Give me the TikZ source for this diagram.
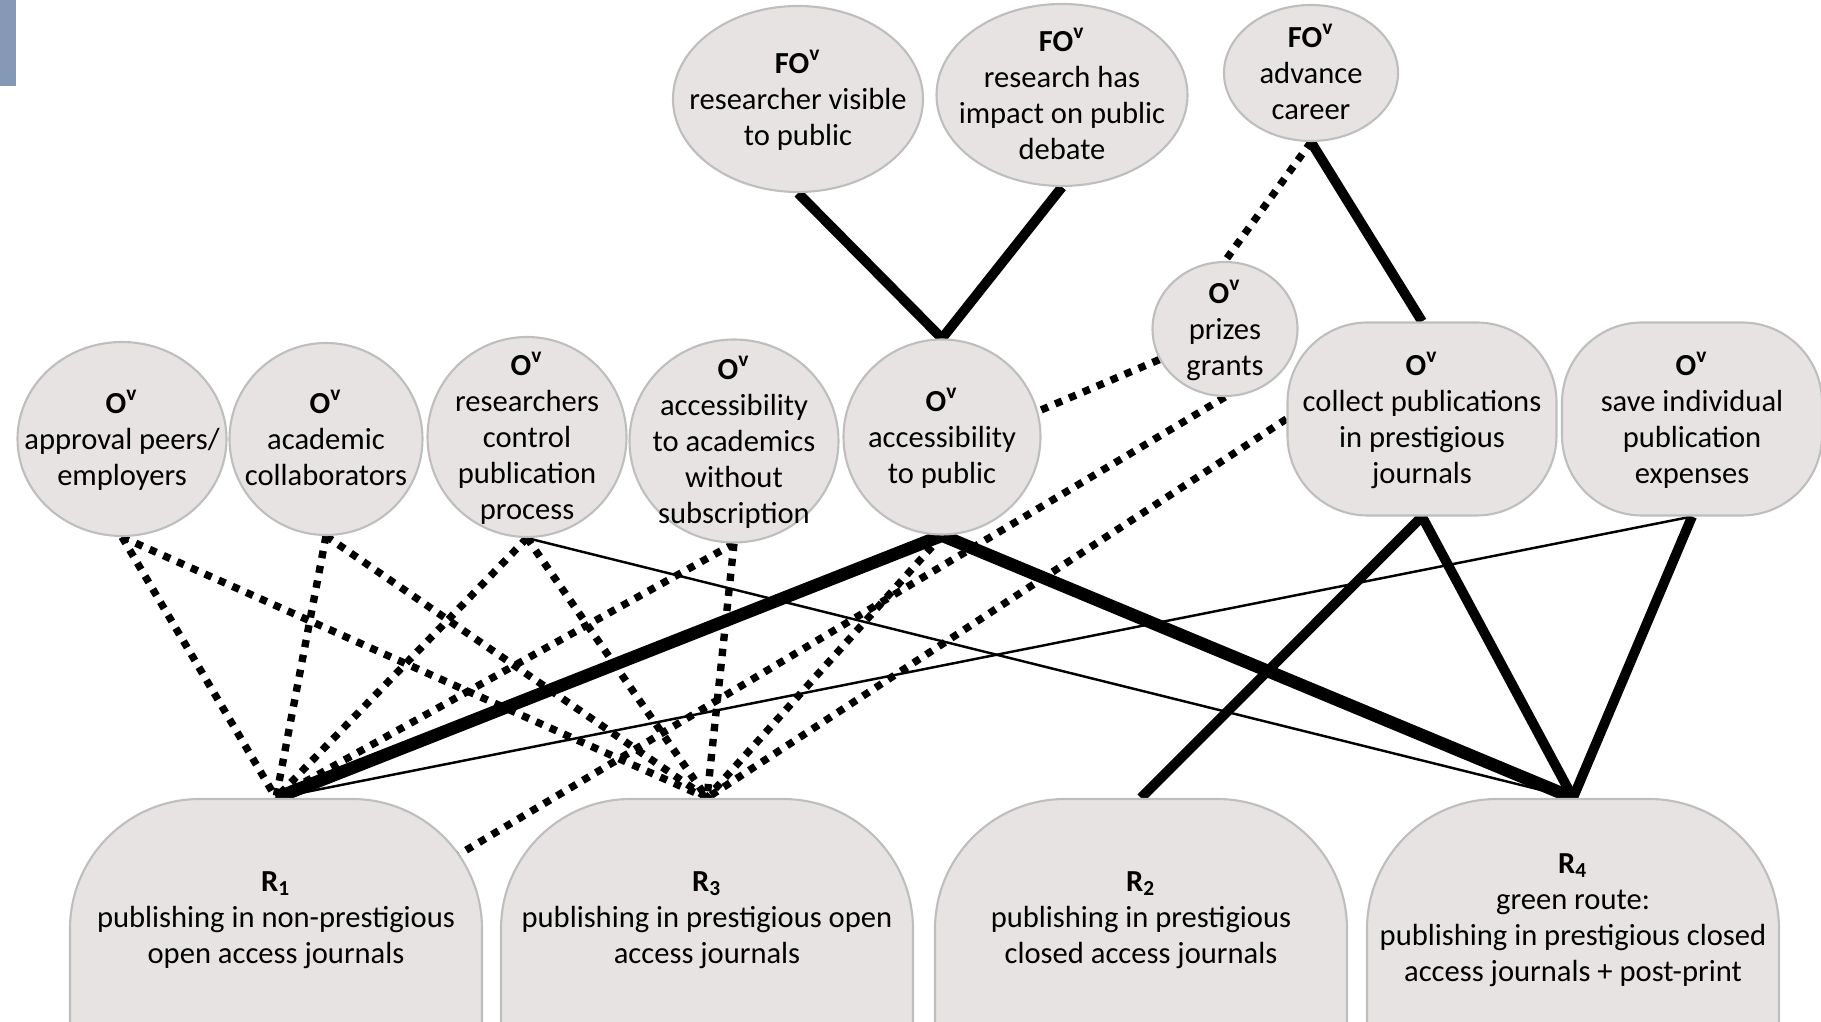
\documentclass[tikz,border=0pt]{standalone}
\usepackage{fontspec}
\setmainfont{Carlito}
\usetikzlibrary{shapes.geometric,backgrounds}
\definecolor{bubble}{RGB}{231,227,227}
\definecolor{rim}{RGB}{190,190,190}
\definecolor{slideblue}{RGB}{132,153,181}
% centred text that does not change the size of its shape
\newcommand{\ntext}[2][0pt]{\raisebox{\dimexpr #1-3.2pt\relax}[0pt][0pt]{\makebox[0pt]{\begin{tabular}{@{}c@{}}#2\end{tabular}}}}
\newcommand{\fov}{\textbf{FO\textsuperscript{v}}}
\newcommand{\ov}{\textbf{O\textsuperscript{v}}}

\begin{document}
\begin{tikzpicture}[dims/.style 2 args = {minimum width=#1cm, minimum height=#2cm},
	goal/.style = {ellipse, fill=bubble, draw=rim, line width=0.6pt, inner sep=0pt, font=\fontsize{8.7}{10.2}\selectfont},
	box/.style = {rectangle, rounded corners=0.8cm, fill=bubble, draw=rim, line width=0.6pt, inner sep=0pt, font=\fontsize{8.7}{10.2}\selectfont},
	route/.style = {box, rounded corners=1.3cm, dims={4.12}{4.6}},
	heavylink/.style = {line width=3.6pt},
	solidlink/.style = {line width=2.8pt},
	thinlink/.style = {line width=0.7pt},
	dotlink/.style = {line width=2.1pt, dash pattern=on 2.1pt off 2.2pt},]
		\useasboundingbox (0,0) rectangle (18.21,10.22);
		\clip (0,0) rectangle (18.21,10.22);
		\fill[slideblue] (0,9.36) rectangle (0.16,10.22);
		
		\node[goal, dims={2.50}{1.86}] (fo1) at (7.98,9.23) {\ntext{\fov\\researcher visible\\to public}};
		\node[goal, dims={2.51}{1.82}] (fo2) at (10.62,9.27) {\ntext{\fov\\research has\\impact on public\\debate}};
		\node[goal, dims={1.74}{1.36}] (fo3) at (13.11,9.49) {\ntext{\fov\\advance\\career}};
		\node[goal, dims={1.45}{1.34}] (prizes) at (12.25,6.93) {\ntext{\ov\\prizes\\grants}};
		\node[goal, dims={2.09}{1.94}] (approval) at (1.22,5.83) {\ntext{\ov\\approval peers/\\employers}};
		\node[goal, dims={1.93}{1.92}] (academic) at (3.26,5.83) {\ntext{\ov\\academic\\collaborators}};
		\node[goal, dims={1.99}{2.00}] (control) at (5.27,5.85) {\ntext{\ov\\researchers\\control\\publication\\process}};
		\node[goal, dims={2.09}{2.03}] (nosub) at (7.34,5.81) {\ntext{\ov\\accessibility\\to academics\\without\\subscription}};
		\node[goal, dims={1.97}{1.95}] (public) at (9.42,5.85) {\ntext{\ov\\accessibility\\to public}};
		\node[box, dims={2.69}{1.93}] (collect) at (14.22,6.03) {\ntext{\ov\\collect publications\\in prestigious\\journals}};
		\node[box, dims={2.60}{1.93}] (save) at (16.92,6.03) {\ntext{\ov\\save individual\\publication\\expenses}};
		
		\node[route] (r1) at (2.76,-0.07) {\ntext[1.12cm]{\textbf{R\textsubscript{1}}\\publishing in non-prestigious\\open access journals}};
		\node[route] (r3) at (7.07,-0.07) {\ntext[1.12cm]{\textbf{R\textsubscript{3}}\\publishing in prestigious open\\access journals}};
		\node[route] (r2) at (11.41,-0.07) {\ntext[1.12cm]{\textbf{R\textsubscript{2}}\\publishing in prestigious\\closed access journals}};
		\node[route] (r4) at (15.73,-0.07) {\ntext[1.12cm]{\textbf{R\textsubscript{4}}\\green route:\\publishing in prestigious closed\\access journals + post-print}};
		\path (r1.north east) ++(-0.3,-0.6) coordinate (r1edge);
		
		\begin{scope}[on background layer]
		\draw[solidlink] (fo1.south) -- (public.north);
		\draw[solidlink] (fo2.south) -- (public.north);
		\draw[solidlink] (fo3.south) -- (collect.north);
		\draw[dotlink] (fo3.south) -- (prizes.north);
		\draw[dotlink] (prizes.205) -- (public.15);
		
		\draw[dotlink] (approval.south) -- (r1.north);
		\draw[dotlink] (approval.south) -- (r3.north);
		\draw[dotlink] (academic.south) -- (r1.north);
		\draw[dotlink] (academic.south) -- (r3.north);
		\draw[dotlink] (control.south) -- (r1.north);
		\draw[dotlink] (control.south) -- (r3.north);
		\draw[thinlink] (control.south) -- (r4.north);
		\draw[dotlink] (nosub.south) -- (r1.north);
		\draw[dotlink] (nosub.south) -- (r3.north);
		\draw[heavylink] (public.south) -- (r1.north);
		\draw[dotlink] (public.south) -- (r3.north);
		\draw[heavylink] (public.south) -- (r4.north);
		\draw[dotlink] (prizes.south) -- (r1edge);
		\draw[dotlink] (collect.west) -- (r3.north);
		\draw[solidlink] (collect.south) -- (r2.north);
		\draw[solidlink] (collect.south) -- (r4.north);
		\draw[solidlink] (save.south) -- (r4.north);
		\draw[thinlink] (save.south) -- (r1.north);
		\end{scope}
	\end{tikzpicture}
\end{document}
